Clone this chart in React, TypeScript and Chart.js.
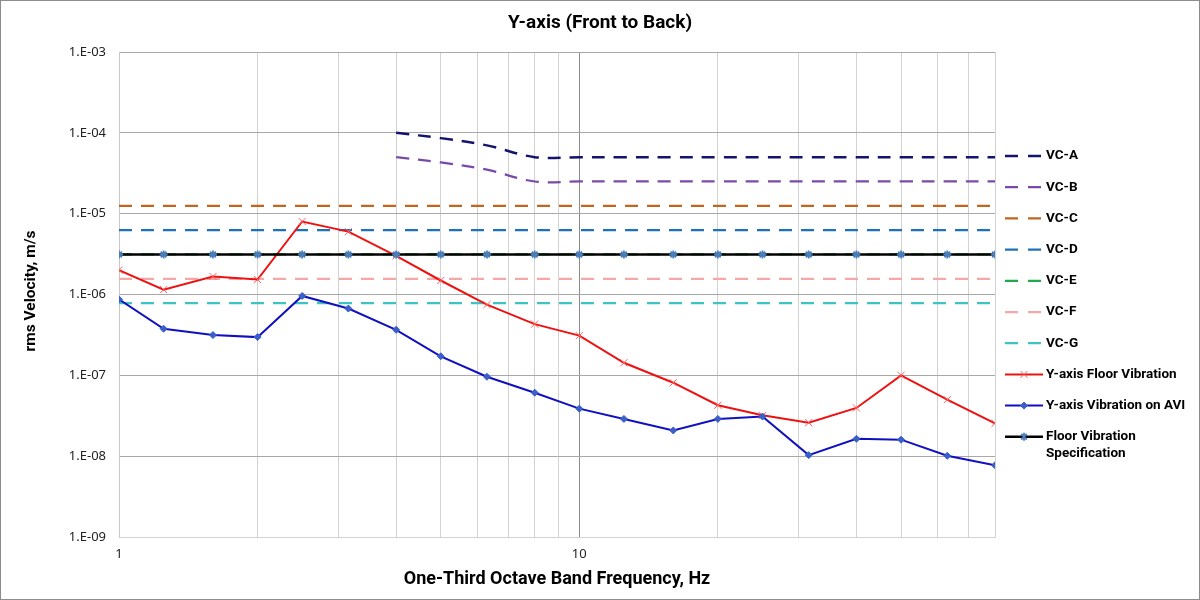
import React, { useEffect, useRef } from "react";
import { Chart, registerables } from "chart.js";

Chart.register(...registerables);

const FREQ = [1, 1.25, 1.6, 2, 2.5, 3.15, 4, 5, 6.3, 8, 10, 12.5, 16, 20, 25, 31.5, 40, 50, 63, 80];

const VC_A = [null, null, null, null, null, null, 1e-4, 8.6e-5, 7e-5, 5e-5, 5e-5, 5e-5, 5e-5, 5e-5, 5e-5, 5e-5, 5e-5, 5e-5, 5e-5, 5e-5];
const VC_B = [null, null, null, null, null, null, 5e-5, 4.3e-5, 3.5e-5, 2.5e-5, 2.5e-5, 2.5e-5, 2.5e-5, 2.5e-5, 2.5e-5, 2.5e-5, 2.5e-5, 2.5e-5, 2.5e-5, 2.5e-5];
const VC_C = [1.25e-5, 1.25e-5, 1.25e-5, 1.25e-5, 1.25e-5, 1.25e-5, 1.25e-5, 1.25e-5, 1.25e-5, 1.25e-5, 1.25e-5, 1.25e-5, 1.25e-5, 1.25e-5, 1.25e-5, 1.25e-5, 1.25e-5, 1.25e-5, 1.25e-5, 1.25e-5];
const VC_D = [6.25e-6, 6.25e-6, 6.25e-6, 6.25e-6, 6.25e-6, 6.25e-6, 6.25e-6, 6.25e-6, 6.25e-6, 6.25e-6, 6.25e-6, 6.25e-6, 6.25e-6, 6.25e-6, 6.25e-6, 6.25e-6, 6.25e-6, 6.25e-6, 6.25e-6, 6.25e-6];
const VC_E = [3.125e-6, 3.125e-6, 3.125e-6, 3.125e-6, 3.125e-6, 3.125e-6, 3.125e-6, 3.125e-6, 3.125e-6, 3.125e-6, 3.125e-6, 3.125e-6, 3.125e-6, 3.125e-6, 3.125e-6, 3.125e-6, 3.125e-6, 3.125e-6, 3.125e-6, 3.125e-6];
const VC_F = [1.5625e-6, 1.5625e-6, 1.5625e-6, 1.5625e-6, 1.5625e-6, 1.5625e-6, 1.5625e-6, 1.5625e-6, 1.5625e-6, 1.5625e-6, 1.5625e-6, 1.5625e-6, 1.5625e-6, 1.5625e-6, 1.5625e-6, 1.5625e-6, 1.5625e-6, 1.5625e-6, 1.5625e-6, 1.5625e-6];
const VC_G = [7.8e-7, 7.8e-7, 7.8e-7, 7.8e-7, 7.8e-7, 7.8e-7, 7.8e-7, 7.8e-7, 7.8e-7, 7.8e-7, 7.8e-7, 7.8e-7, 7.8e-7, 7.8e-7, 7.8e-7, 7.8e-7, 7.8e-7, 7.8e-7, 7.8e-7, 7.8e-7];
const FLOOR = [2.0e-6, 1.15e-6, 1.67e-6, 1.53e-6, 8.0e-6, 6.0e-6, 3.0e-6, 1.49e-6, 7.5e-7, 4.3e-7, 3.1e-7, 1.43e-7, 8.1e-8, 4.27e-8, 3.2e-8, 2.6e-8, 3.95e-8, 1.0e-7, 5.0e-8, 2.55e-8];
const AVI = [8.7e-7, 3.77e-7, 3.15e-7, 2.97e-7, 9.6e-7, 6.7e-7, 3.66e-7, 1.72e-7, 9.6e-8, 6.1e-8, 3.87e-8, 2.89e-8, 2.08e-8, 2.89e-8, 3.09e-8, 1.03e-8, 1.64e-8, 1.6e-8, 1.01e-8, 7.7e-9];
const SPEC = [3.125e-6, 3.125e-6, 3.125e-6, 3.125e-6, 3.125e-6, 3.125e-6, 3.125e-6, 3.125e-6, 3.125e-6, 3.125e-6, 3.125e-6, 3.125e-6, 3.125e-6, 3.125e-6, 3.125e-6, 3.125e-6, 3.125e-6, 3.125e-6, 3.125e-6, 3.125e-6];

const X_GRID = [1, 2, 3, 4, 5, 6, 7, 8, 9, 10, 20, 30, 40, 50, 60, 70, 80];
const X_LABELS = [1, 10];
const Y_TICKS = [1e-9, 1e-8, 1e-7, 1e-6, 1e-5, 1e-4, 1e-3];

const TITLE = "Y-axis (Front to Back)";
const X_TITLE = "One-Third Octave Band Frequency, Hz";
const Y_TITLE = "rms Velocity, m/s";

const NARROW = '"Liberation Sans Narrow", "Arial Narrow", "Roboto", sans-serif';
const TICKFONT = '"Noto Sans", "DejaVu Sans", sans-serif';

const pts = (arr: (number | null)[]) => FREQ.map((f, i) => ({ x: f, y: arr[i] }));

function drawMarker(ctx: CanvasRenderingContext2D, style: string, x: number, y: number, r: number, fill: string, stroke: string, lw: number) {
  ctx.save();
  ctx.lineWidth = lw;
  ctx.strokeStyle = stroke;
  ctx.fillStyle = fill;
  ctx.setLineDash([]);
  ctx.beginPath();
  if (style === "crossRot") {
    ctx.moveTo(x - r * 0.7, y - r * 0.7);
    ctx.lineTo(x + r * 0.7, y + r * 0.7);
    ctx.moveTo(x + r * 0.7, y - r * 0.7);
    ctx.lineTo(x - r * 0.7, y + r * 0.7);
    ctx.stroke();
  } else if (style === "rectRot") {
    ctx.moveTo(x, y - r);
    ctx.lineTo(x + r, y);
    ctx.lineTo(x, y + r);
    ctx.lineTo(x - r, y);
    ctx.closePath();
    ctx.fill();
    ctx.stroke();
  } else if (style === "star") {
    ctx.moveTo(x - r * 0.7, y - r * 0.7);
    ctx.lineTo(x + r * 0.7, y + r * 0.7);
    ctx.moveTo(x + r * 0.7, y - r * 0.7);
    ctx.lineTo(x - r * 0.7, y + r * 0.7);
    ctx.moveTo(x, y - r);
    ctx.lineTo(x, y + r);
    ctx.stroke();
  }
  ctx.restore();
}

const framePlugin = {
  id: "frame",
  beforeDraw(chart: any) {
    const ctx = chart.ctx as CanvasRenderingContext2D;
    ctx.save();
    ctx.fillStyle = "#ffffff";
    ctx.fillRect(0, 0, chart.width, chart.height);
    ctx.strokeStyle = "#8c8c8c";
    ctx.lineWidth = 1;
    ctx.strokeRect(0.5, 0.5, chart.width - 1, chart.height - 1);
    ctx.restore();
  },
  afterDraw(chart: any) {
    const ctx = chart.ctx as CanvasRenderingContext2D;
    const area = chart.chartArea;
    ctx.save();
    ctx.fillStyle = "#000000";
    ctx.textAlign = "center";
    ctx.textBaseline = "middle";
    ctx.font = `bold 19px ${NARROW}`;
    ctx.fillText(TITLE, chart.width / 2, 23);
    ctx.font = `bold 18px ${NARROW}`;
    ctx.fillText(X_TITLE, (area.left + area.right) / 2, 579);
    ctx.font = `bold 15.5px ${NARROW}`;
    ctx.save();
    ctx.translate(31, 291);
    ctx.rotate(-Math.PI / 2);
    ctx.fillText(Y_TITLE, 0, 0);
    ctx.restore();

    // legend
    const ds = chart.data.datasets;
    const x0 = 1005;
    const x1 = 1043;
    const y0 = 156;
    const step = 31.2;
    ctx.font = `bold 13.5px ${NARROW}`;
    ctx.textAlign = "left";
    ds.forEach((d: any, i: number) => {
      const y = y0 + i * step;
      ctx.save();
      ctx.strokeStyle = d.borderColor;
      ctx.lineWidth = d.borderWidth;
      if (d.borderDash && d.borderDash.length) ctx.setLineDash([13, 10]);
      ctx.beginPath();
      ctx.moveTo(x0, y);
      ctx.lineTo(x1, y);
      ctx.stroke();
      ctx.restore();
      if (d.pointRadius > 0) {
        drawMarker(ctx, d.pointStyle, (x0 + x1) / 2, y, d.pointRadius, d.pointBackgroundColor, d.pointBorderColor, d.pointBorderWidth);
      }
      ctx.fillStyle = "#000000";
      const lines = String(d.label).split("\n");
      lines.forEach((t: string, k: number) => ctx.fillText(t, 1046, y + k * 17));
    });
    ctx.restore();
  },
};

const dashed = (label: string, data: (number | null)[], color: string, width = 2.25, tension = 0) => ({
  label,
  data: pts(data),
  borderColor: color,
  backgroundColor: color,
  borderWidth: width,
  borderDash: [13, 9],
  pointRadius: 0,
  pointStyle: "circle",
  tension,
  fill: false,
});

export default function App() {
  const ref = useRef<HTMLCanvasElement | null>(null);
  useEffect(() => {
    if (!ref.current) return;
    const datasets: any[] = [
      dashed("VC-A", VC_A, "#14146e", 2.5, 0.35),
      dashed("VC-B", VC_B, "#7a4aa8", 2.25, 0.35),
      dashed("VC-C", VC_C, "#c0661e"),
      dashed("VC-D", VC_D, "#1f72b8"),
      dashed("VC-E", VC_E, "#1faa4c"),
      dashed("VC-F", VC_F, "#f4a8a8"),
      dashed("VC-G", VC_G, "#3cc4c4"),
      {
        label: "Y-axis Floor Vibration",
        data: pts(FLOOR),
        borderColor: "#ee1111",
        backgroundColor: "#ee1111",
        borderWidth: 2,
        pointStyle: "crossRot",
        pointRadius: 5,
        pointBackgroundColor: "#ff6060",
        pointBorderColor: "#ff6060",
        pointBorderWidth: 1,
        tension: 0,
      },
      {
        label: "Y-axis Vibration on AVI",
        data: pts(AVI),
        borderColor: "#1010c0",
        backgroundColor: "#1010c0",
        borderWidth: 2,
        pointStyle: "rectRot",
        pointRadius: 3.5,
        pointBackgroundColor: "#3a5fc8",
        pointBorderColor: "#3a5fc8",
        pointBorderWidth: 1,
        tension: 0,
      },
      {
        label: "Floor Vibration\nSpecification",
        data: pts(SPEC),
        borderColor: "#000000",
        backgroundColor: "#000000",
        borderWidth: 2.5,
        pointStyle: "star",
        pointRadius: 4,
        pointBackgroundColor: "#4a7ebb",
        pointBorderColor: "#4a7ebb",
        pointBorderWidth: 1.8,
        tension: 0,
      },
    ];
    const n = datasets.length;
    datasets.forEach((d, i) => (d.order = n - 1 - i));

    const chart = new Chart(ref.current, {
      type: "line",
      data: { datasets },
      plugins: [framePlugin],
      options: {
        responsive: false,
        animation: false,
        layout: { padding: { top: 52, right: 205, bottom: 0, left: 0 } },
        plugins: { legend: { display: false }, title: { display: false }, tooltip: { enabled: false } },
        scales: {
          x: {
            type: "logarithmic",
            min: 1,
            max: 80,
            afterFit: (s: any) => {
              s.height = 63;
            },
            afterBuildTicks: (s: any) => {
              s.ticks = X_GRID.map((v) => ({ value: v }));
            },
            grid: {
              drawTicks: false,
              color: (c: any) => (c.tick && c.tick.value === 10 ? "#8a8a8a" : "#d2d2d2"),
              lineWidth: 1,
            },
            border: { display: true, color: "#d2d2d2" },
            ticks: {
              autoSkip: false,
              maxRotation: 0,
              padding: 9,
              color: "#222222",
              font: { family: TICKFONT, size: 13 },
              callback: (v: any) => (X_LABELS.includes(Number(v)) ? String(v) : ""),
            },
          },
          y: {
            type: "logarithmic",
            min: 1e-9,
            max: 1e-3,
            afterFit: (s: any) => {
              s.width = 119;
            },
            afterBuildTicks: (s: any) => {
              s.ticks = Y_TICKS.map((v) => ({ value: v }));
            },
            grid: {
              drawTicks: false,
              color: (c: any) => (c.tick && c.tick.value === 1e-9 ? "#d2d2d2" : "#a8a8a8"),
              lineWidth: 1,
            },
            border: { display: true, color: "#c8c8c8" },
            ticks: {
              autoSkip: false,
              padding: 13,
              color: "#222222",
              font: { family: TICKFONT, size: 13 },
              callback: (v: any) => {
                const e = Math.round(Math.log10(Number(v)));
                const sign = e < 0 ? "-" : "+";
                return `1.E${sign}${String(Math.abs(e)).padStart(2, "0")}`;
              },
            },
          },
        },
      } as any,
    });
    return () => chart.destroy();
  }, []);

  return (
    <div style={{ position: "absolute", left: 0, top: 0, width: 1200, height: 600, background: "#fff" }}>
      <canvas ref={ref} width={1200} height={600} style={{ display: "block", width: 1200, height: 600 }} />
    </div>
  );
}
